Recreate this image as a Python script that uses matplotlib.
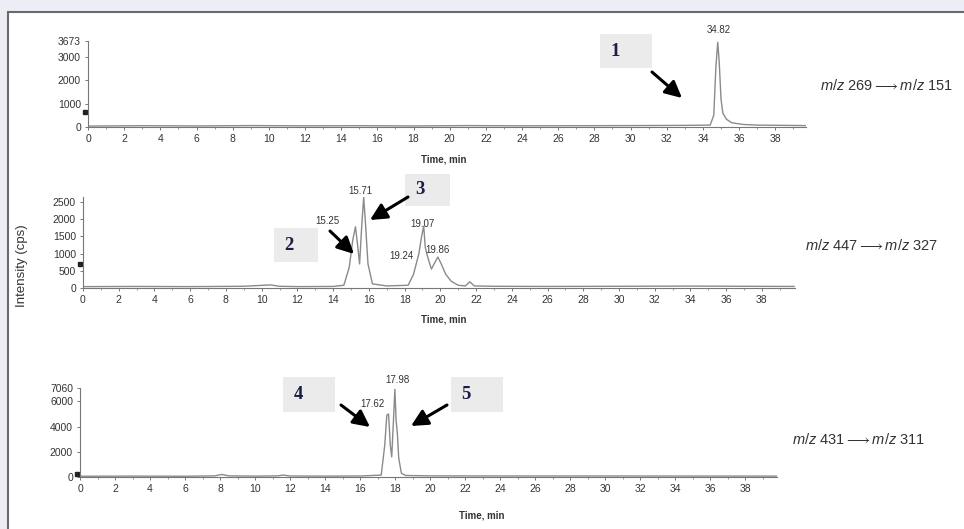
import matplotlib
matplotlib.use("Agg")
import matplotlib.pyplot as plt
from matplotlib.patches import Rectangle

plt.rcParams['font.family'] = ['Liberation Sans', 'DejaVu Sans']
plt.rcParams['mathtext.fontset'] = 'custom'
plt.rcParams['mathtext.it'] = 'Liberation Sans:italic'
plt.rcParams['mathtext.rm'] = 'Liberation Sans'
plt.rcParams['mathtext.fallback'] = 'stixsans'

W, H = 964, 529

# --- chromatogram traces (time in min, intensity in cps) ---
t1 = [0, 3, 6, 9, 12, 15, 18, 21, 24, 27, 30, 33, 34.4, 34.6, 34.72, 34.82,
      34.9, 35.0, 35.1, 35.3, 35.6, 36.2, 37, 38.5, 39.7]
y1 = [40, 55, 45, 60, 50, 55, 45, 60, 50, 55, 60, 70, 80, 500, 2600, 3620,
      2800, 1200, 600, 330, 180, 110, 80, 70, 60]

t2 = [0, 3, 6, 9, 10.5, 11, 12, 14, 14.6, 14.9, 15.1, 15.25, 15.38, 15.48,
      15.6, 15.71, 15.82, 15.95, 16.2, 17, 18.2, 18.5, 18.8, 18.95, 19.07,
      19.15, 19.24, 19.35, 19.5, 19.7, 19.86, 20.05, 20.3, 20.6, 21.0, 21.4,
      21.65, 21.9, 23, 26, 30, 34, 39.8]
y2 = [40, 45, 40, 50, 90, 50, 40, 45, 80, 600, 1400, 1780, 1200, 700,
      1800, 2640, 1800, 700, 120, 60, 80, 400, 1000, 1500, 1800,
      1200, 1000, 800, 550, 750, 900, 700, 400, 200, 80, 60,
      180, 60, 50, 45, 50, 55, 45]

t3 = [0, 3, 6, 7.7, 8.1, 8.5, 10, 11.3, 11.6, 12, 14, 16, 17.2, 17.4, 17.52,
      17.62, 17.72, 17.8, 17.9, 17.98, 18.05, 18.12, 18.2, 18.35, 18.6, 20,
      25, 30, 35, 39.8]
y3 = [60, 70, 60, 90, 200, 90, 70, 90, 150, 80, 70, 80, 150, 2500, 4900,
      5000, 2500, 1600, 4500, 6950, 4500, 3500, 1500, 300, 120, 90,
      80, 80, 75, 70]

yticks1 = [0, 1000, 2000, 3000, 3673]
yticks2 = [0, 500, 1000, 1500, 2000, 2500]
yticks3 = [0, 2000, 4000, 6000, 7060]
ymax = [3673, 2645, 7060]
xmax = [39.7, 39.85, 39.8]
xticks = list(range(0, 40, 2))

transitions = [r"$m/z$ 269$\longrightarrow$$m/z$ 151",
               r"$m/z$ 447$\longrightarrow$$m/z$ 327",
               r"$m/z$ 431$\longrightarrow$$m/z$ 311"]

# peak labels: (text, time, intensity) where the label sits
peak_labels = [
    [("34.82", 34.85, 4140)],
    [("15.25", 13.7, 1950), ("15.71", 15.5, 2820), ("19.07", 19.0, 1850),
     ("19.24", 17.8, 930), ("19.86", 19.85, 1105)],
    [("17.62", 16.69, 5790), ("17.98", 18.11, 7690)],
]
left_marker = [650, 700, 250]

# axes placement in pixels: x0 (t=0), x1 (right end), y_bottom, y_top
frames = [(88, 806, 127, 41), (83, 795, 288, 197), (80, 777, 477, 388)]
traces = [(t1, y1), (t2, y2), (t3, y3)]
yticks_all = [yticks1, yticks2, yticks3]
label_pos = [(820, 86), (805, 246), (792, 440)]
xlabel_pos = [(444, 160), (444, 320), (482, 515)]

fig = plt.figure(figsize=(W / 100, H / 100), dpi=100)
fig.patch.set_facecolor('#ededf5')
fig.patches.append(Rectangle((8 / W, -0.05), 1.0, (H - 12) / H + 0.05, transform=fig.transFigure,
                             facecolor='white', edgecolor='#6a6a6a', lw=1.5, zorder=-5))

for i, (x0, x1, yb, yt) in enumerate(frames):
    ax = fig.add_axes([x0 / W, 1 - yb / H, (x1 - x0) / W, (yb - yt) / H])
    ax.set_zorder(2)
    ax.patch.set_alpha(0)
    t, y = traces[i]
    ax.plot(t, y, color='#8a8a8a', lw=1.0)
    ax.set_xlim(0, xmax[i])
    ax.set_ylim(0, ymax[i])
    ax.set_xticks(xticks)
    ax.set_xticks(range(0, 40), minor=True)
    ax.set_yticks(yticks_all[i])
    for s in ['top', 'right']:
        ax.spines[s].set_visible(False)
    for s in ['left', 'bottom']:
        ax.spines[s].set_color('#777777')
        ax.spines[s].set_linewidth(0.8)
    ax.tick_params(axis='both', which='major', length=2, width=0.7, color='#777777',
                   labelsize=7.5, labelcolor='#333333', pad=3)
    ax.tick_params(axis='x', which='minor', length=1.5, width=0.6, color='#888888')
    ax.plot([-0.15], [left_marker[i]], marker='s', ms=2.2, color='#222222',
            clip_on=False)
    for txt, tx, ty in peak_labels[i]:
        ax.text(tx, ty, txt, fontsize=7, color='#333333', ha='center', va='center',
                clip_on=False)
    lx, ly = label_pos[i]
    fig.text(lx / W, 1 - ly / H, transitions[i], fontsize=10.5, color='#333333',
             ha='left', va='center')
    xx, xy = xlabel_pos[i]
    fig.text(xx / W, 1 - xy / H, "Time, min", fontsize=7, fontweight='bold',
             color='#333333', ha='center', va='center')

fig.text(22 / W, 1 - 266 / H, "Intensity (cps)", rotation=90, fontsize=9.5,
         color='#333333', ha='center', va='center')

# numbered boxes (x, y, w, h in pixels from top-left) and arrows
boxes = [("1", 600, 34, 52, 34), ("2", 274, 228, 44, 34), ("3", 405, 174, 45, 32),
         ("4", 283, 377, 52, 35), ("5", 451, 377, 52, 35)]
for num, bx, by, bw, bh in boxes:
    fig.patches.append(Rectangle((bx / W, 1 - (by + bh) / H), bw / W, bh / H,
                                 transform=fig.transFigure, facecolor='#ebebeb',
                                 edgecolor='none', zorder=1))
    fig.text((bx + 15) / W, 1 - (by + bh / 2) / H, num, family='Liberation Serif',
             fontweight='bold', fontsize=13.5, color='#1c1c48', ha='center', va='center')

arrows = [((652, 72), (682, 98)), ((330, 231), (354, 254)), ((408, 197), (370, 220)),
          ((341, 405), (370, 427)), ((447, 405), (411, 426))]
for (sx, sy), (ex, ey) in arrows:
    fig.add_artist(plt.Annotation("", xy=(ex / W, 1 - ey / H), xytext=(sx / W, 1 - sy / H),
                                  xycoords='figure fraction', textcoords='figure fraction',
                                  arrowprops=dict(arrowstyle='-|>,head_width=0.5,head_length=1.0',
                                                  lw=2.2, color='black',
                                                  shrinkA=0, shrinkB=0)))

fig.savefig("out.png", dpi=100, facecolor=fig.get_facecolor())
